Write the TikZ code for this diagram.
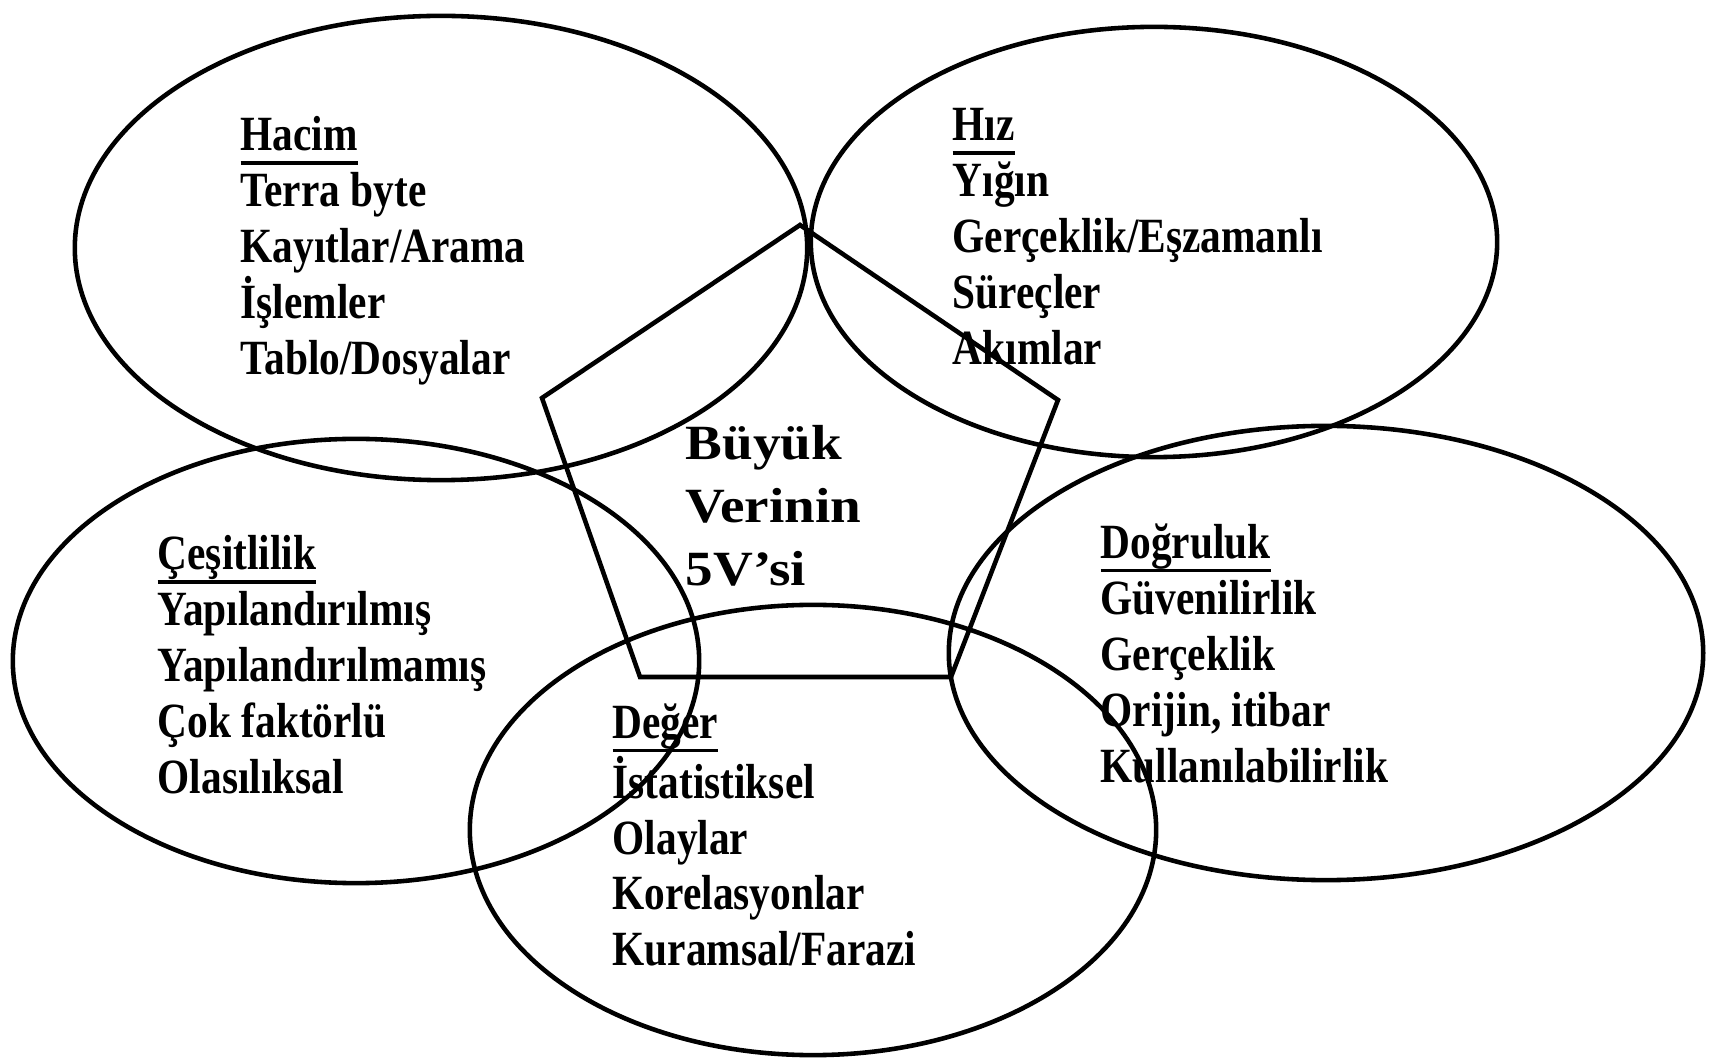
\documentclass[tikz,border=0pt]{standalone}
\usepackage{fontspec}
\setmainfont{Liberation Serif}
\newfontfamily\narrowfont{Liberation Serif}[FakeStretch=0.84]
\newfontfamily\widefont{Liberation Serif}[FakeStretch=1.12]
\newcommand\vhead[1]{\setbox0\hbox{#1}\rlap{\rule[-4pt]{\wd0}{1pt}}\box0}
\usetikzlibrary{shapes.geometric}

\begin{document}
\begin{tikzpicture}[x=0.01cm,y=-0.01cm,
  vring/.style={draw,ellipse,line width=1.3pt,inner sep=0pt},
  vtext/.style={anchor=north west,align=left,inner sep=0pt,
              font=\narrowfont\bfseries\fontsize{14pt}{15.9pt}\selectfont},
  core/.style={anchor=north west,align=left,inner sep=0pt,
              font=\widefont\bfseries\fontsize{14pt}{17.9pt}\selectfont},
  edge/.style={draw,line width=1.3pt,line join=miter}]
\useasboundingbox (0,0) rectangle (1714,1058);

% the five V's
\node[vring,minimum width=7.32cm,minimum height=4.64cm] (vhacim) at (441,248) {};
\node[vring,minimum width=6.86cm,minimum height=4.30cm] (vhiz) at (1154,242) {};
\node[vring,minimum width=6.86cm,minimum height=4.44cm] (vcesit) at (356,661) {};
\node[vring,minimum width=7.54cm,minimum height=4.54cm] (vdogru) at (1326,653) {};
\node[vring,minimum width=6.86cm,minimum height=4.50cm] (vdeger) at (813,830) {};

% pentagon in the middle
\coordinate (ptop) at (800,225);
\coordinate (pright) at (1058,400);
\coordinate (pbr) at (951,677);
\coordinate (pbl) at (640,677);
\coordinate (pleft) at (542,398);
\draw[edge] (ptop) -- (pright) -- (pbr) -- (pbl) -- (pleft) -- cycle;

\node[vtext] (thacim) at (240,116) {\vhead{Hacim}\\Terra byte\\Kayıtlar/Arama\\İşlemler\\Tablo/Dosyalar};
\node[vtext] (thiz) at (952,108) {\vhead{Hız}\\Yığın\\Gerçeklik/Eşzamanlı\\Süreçler\\Akımlar};
\node[core] (tcore) at (685,425) {Büyük\\Verinin\\5V’si};
\node[vtext] (tcesit) at (157,535) {\vhead{Çeşitlilik}\\Yapılandırılmış\\Yapılandırılmamış\\Çok faktörlü\\Olasılıksal};
\node[vtext] (tdogru) at (1100,523) {\vhead{Doğruluk}\\Güvenilirlik\\Gerçeklik\\Orijin, itibar\\Kullanılabilirlik};
\node[vtext] (tdeger) at (612,703) {\vhead{Değer}\\İstatistiksel\\Olaylar\\Korelasyonlar\\Kuramsal/Farazi};
\end{tikzpicture}
\end{document}
